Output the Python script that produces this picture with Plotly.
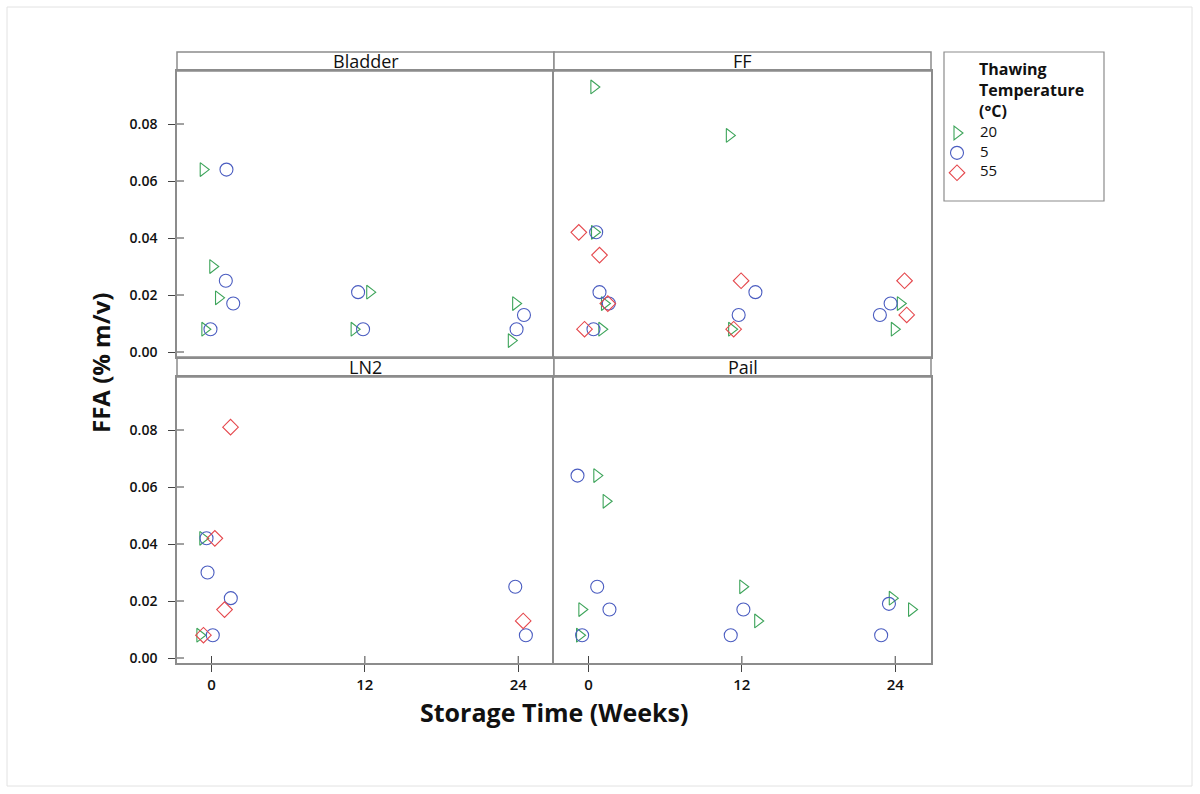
import plotly.graph_objects as go
from plotly.subplots import make_subplots

# ---- data: storage week (as plotted, with spread) and FFA (% m/v) ----
containers = ["Bladder", "FF", "LN2", "Pail"]
temperatures = ["20", "5", "55"]
week_ticks = [0, 12, 24]
ffa_ticks = [0.00, 0.02, 0.04, 0.06, 0.08]

bladder_20_week = [-0.65, 0.10, 0.55, -0.52, 12.38, 11.16, 23.80, 23.46]
bladder_20_ffa = [0.064, 0.030, 0.019, 0.008, 0.021, 0.008, 0.017, 0.004]
bladder_5_week = [1.17, 1.12, 1.70, -0.08, 11.47, 11.86, 24.45, 23.87]
bladder_5_ffa = [0.064, 0.025, 0.017, 0.008, 0.021, 0.008, 0.013, 0.008]
bladder_55_week = []
bladder_55_ffa = []

ff_20_week = [0.42, 11.02, 0.47, 1.25, 1.04, 11.20, 24.40, 23.93]
ff_20_ffa = [0.093, 0.076, 0.042, 0.017, 0.008, 0.008, 0.017, 0.008]
ff_5_week = [0.60, 0.86, 1.59, 0.39, 13.06, 11.75, 23.64, 22.80]
ff_5_ffa = [0.042, 0.021, 0.017, 0.008, 0.021, 0.013, 0.017, 0.013]
ff_55_week = [-0.76, 0.86, 1.51, -0.31, 11.94, 11.36, 24.73, 24.90]
ff_55_ffa = [0.042, 0.034, 0.017, 0.008, 0.025, 0.008, 0.025, 0.013]

ln2_20_week = [-0.68, -0.91]
ln2_20_ffa = [0.042, 0.008]
ln2_5_week = [-0.39, -0.31, 1.51, 0.10, 23.77, 24.60]
ln2_5_ffa = [0.042, 0.030, 0.021, 0.008, 0.025, 0.008]
ln2_55_week = [1.49, 0.26, 1.02, -0.63, 24.39]
ln2_55_ffa = [0.081, 0.042, 0.017, 0.008, 0.013]

pail_20_week = [0.65, 1.38, -0.52, -0.70, 12.07, 13.24, 23.77, 25.28]
pail_20_ffa = [0.064, 0.055, 0.017, 0.008, 0.025, 0.013, 0.021, 0.017]
pail_5_week = [-0.86, 0.68, 1.64, -0.50, 12.12, 11.13, 23.51, 22.90]
pail_5_ffa = [0.064, 0.025, 0.017, 0.008, 0.017, 0.008, 0.019, 0.008]
pail_55_week = []
pail_55_ffa = []

series = {
    "Bladder": {"20": (bladder_20_week, bladder_20_ffa),
                "5": (bladder_5_week, bladder_5_ffa),
                "55": (bladder_55_week, bladder_55_ffa)},
    "FF": {"20": (ff_20_week, ff_20_ffa),
           "5": (ff_5_week, ff_5_ffa),
           "55": (ff_55_week, ff_55_ffa)},
    "LN2": {"20": (ln2_20_week, ln2_20_ffa),
            "5": (ln2_5_week, ln2_5_ffa),
            "55": (ln2_55_week, ln2_55_ffa)},
    "Pail": {"20": (pail_20_week, pail_20_ffa),
             "5": (pail_5_week, pail_5_ffa),
             "55": (pail_55_week, pail_55_ffa)},
}

# ---- styling ----
FONT = "Open Sans"
symbols = {"20": "triangle-right-open", "5": "circle-open", "55": "diamond-open"}
colors = {"20": "#3DA45A", "5": "#4A5CC0", "55": "#E5484D"}
sizes = {"20": 12, "5": 13, "55": 12}
FRAME = "#8C8C8C"
TICK = "#444444"

W, H = 1200, 794
L, R, T, B = 177, 931, 52, 663          # outer plotting frame in pixels
PW, PH = R - L, B - T


def px_x(x):
    return (x - L) / PW


def px_y(y):
    return (B - y) / PH


fig = make_subplots(rows=2, cols=2, horizontal_spacing=0, vertical_spacing=0)
positions = {"Bladder": (1, 1), "FF": (1, 2), "LN2": (2, 1), "Pail": (2, 2)}

# legend symbols come from the traces; their labels are set as annotations below
# so that the rows can sit closer together than the legend's own text allows
for name in containers:
    r, c = positions[name]
    for t in temperatures:
        wk, ffa = series[name][t]
        fig.add_trace(
            go.Scatter(
                x=wk, y=ffa, mode="markers", name="", legendgroup=t,
                showlegend=(name == "Bladder" and t != "55") or (name == "FF" and t == "55"),
                marker=dict(symbol=symbols[t], color=colors[t], size=sizes[t],
                            line=dict(width=1.1, color=colors[t])),
                hovertemplate=name + "<br>%{x:.0f} wk<br>%{y:.3f}<extra>" + t + " °C</extra>",
            ),
            row=r, col=c,
        )

# panel domains: data area below a strip header
top_data = [px_y(357), px_y(71)]
bot_data = [px_y(B), px_y(377)]
x_rng = [-2.7, 26.8]
y_rng = [-0.00175, 0.0986]

for r in (1, 2):
    for c in (1, 2):
        xd = [0, 0.5] if c == 1 else [0.5, 1]
        yd = top_data if r == 1 else bot_data
        fig.update_xaxes(domain=xd, range=x_rng, row=r, col=c,
                         showline=True, linecolor=FRAME, linewidth=1.5, mirror=True,
                         showgrid=False, zeroline=False,
                         tickvals=week_ticks, ticktext=[str(v) for v in week_ticks],
                         ticks="outside" if r == 2 else "", ticklen=7, tickcolor=TICK,
                         showticklabels=(r == 2),
                         tickfont=dict(family=FONT, size=15, color="#111", weight=600))
        fig.update_yaxes(domain=yd, range=y_rng, row=r, col=c,
                         showline=True, linecolor=FRAME, linewidth=1.5, mirror=(c == 2),
                         showgrid=False, zeroline=False,
                         tickvals=ffa_ticks, ticktext=[f"{v:.2f}" for v in ffa_ticks],
                         ticks="outside" if c == 1 else "", ticklen=7, tickcolor=TICK,
                         showticklabels=(c == 1), ticklabelstandoff=8,
                         tickfont=dict(family=FONT, size=14, color="#111", weight=600))

shapes = []
annotations = []

# strip headers
strips = {"Bladder": (0, 0.5, px_y(71), 1.0), "FF": (0.5, 1.0, px_y(71), 1.0),
          "LN2": (0, 0.5, px_y(377), px_y(357)), "Pail": (0.5, 1.0, px_y(377), px_y(357))}
for name, (x0, x1, y0, y1) in strips.items():
    shapes.append(dict(type="rect", xref="paper", yref="paper", x0=x0, x1=x1, y0=y0, y1=y1,
                       line=dict(color=FRAME, width=1.5), fillcolor="white", layer="below"))
    annotations.append(dict(text=name, xref="paper", yref="paper", x=(x0 + x1) / 2,
                            y=(y0 + y1) / 2, showarrow=False, xanchor="center", yanchor="middle",
                            font=dict(family=FONT, size=18, color="#111")))

# inner halves of the crossing tick marks
for ax_x, ax_y in (("x3", "y3"), ("x4", "y4")):
    for v in week_ticks:
        shapes.append(dict(type="line", xref=ax_x, yref=f"{ax_y} domain", x0=v, x1=v,
                           y0=0, y1=7 / 286, line=dict(color=TICK, width=1)))
for ax_x, ax_y in (("x", "y"), ("x3", "y3")):
    for v in ffa_ticks:
        shapes.append(dict(type="line", xref=f"{ax_x} domain", yref=ax_y, x0=0, x1=7 / 377,
                           y0=v, y1=v, line=dict(color=TICK, width=1)))

# legend frame, title and entry labels
shapes.append(dict(type="rect", xref="paper", yref="paper", x0=px_x(944), x1=px_x(1104),
                   y0=px_y(201), y1=px_y(52), line=dict(color=FRAME, width=1.2)))
annotations.append(dict(text="<b>Thawing<br>Temperature<br>(°C)</b>", xref="paper", yref="paper",
                        x=px_x(977), y=px_y(56), xanchor="left", yanchor="top", align="left",
                        showarrow=False, font=dict(family=FONT, size=16, color="#111")))
for label, ypx in zip(temperatures, (131, 150.5, 170)):
    annotations.append(dict(text=label, xref="paper", yref="paper", x=px_x(978), y=px_y(ypx),
                            xanchor="left", yanchor="middle", showarrow=False,
                            font=dict(family=FONT, size=15, color="#111")))

# outer page border
shapes.append(dict(type="rect", xref="paper", yref="paper", x0=px_x(7), x1=px_x(1192),
                   y0=px_y(786), y1=px_y(7), line=dict(color="#E2E2E2", width=1)))

# axis titles
annotations.append(dict(text="<b>Storage Time (Weeks)</b>", xref="paper", yref="paper",
                        x=px_x(554), y=px_y(712), showarrow=False, xanchor="center",
                        yanchor="middle", font=dict(family=FONT, size=25, color="#111")))
annotations.append(dict(text="<b>FFA (% m/v)</b>", xref="paper", yref="paper",
                        x=px_x(100), y=px_y(363), showarrow=False, textangle=-90,
                        xanchor="center", yanchor="middle",
                        font=dict(family=FONT, size=24, color="#111")))

fig.update_layout(
    width=W, height=H,
    margin=dict(l=L, r=W - R, t=T, b=H - B),
    paper_bgcolor="white", plot_bgcolor="white",
    font=dict(family=FONT, color="#111"),
    shapes=shapes, annotations=annotations,
    showlegend=True,
    legend=dict(x=px_x(937), y=px_y(118), xanchor="left", yanchor="top",
                bgcolor="rgba(0,0,0,0)", borderwidth=0, tracegroupgap=0,
                font=dict(family=FONT, size=13, color="#111"),
                itemwidth=30, traceorder="normal"),
)

fig.write_html("out.html")
